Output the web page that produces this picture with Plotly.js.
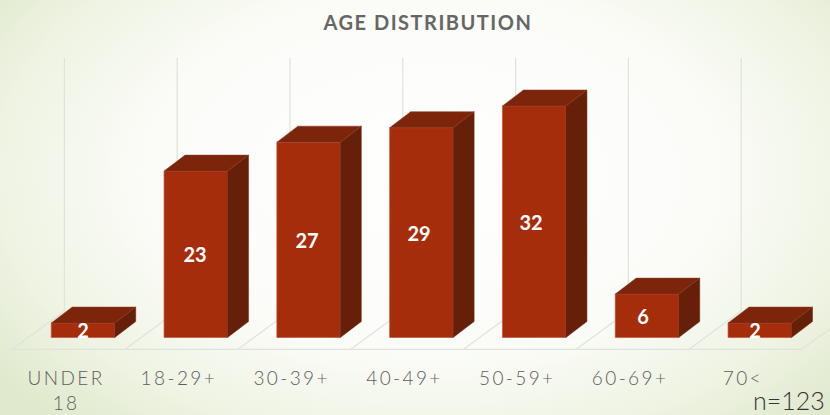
<!DOCTYPE html>
<html>
<head>
<meta charset="utf-8">
<script src="https://cdn.plot.ly/plotly-3.0.1.min.js"></script>
<style>
html,body{margin:0;padding:0;width:830px;height:415px;overflow:hidden;
background:radial-gradient(ellipse 62% 78% at 52% 42%,#ffffff 0%,#fbfcf8 55%,#eef3e2 85%,#e0e9cd 105%);}
#chart{width:830px;height:415px;}
.xtick text{letter-spacing:2.4px;}
.gtitle{letter-spacing:1.5px;}
</style>
</head>
<body>
<div id="chart"></div>
<script>
const categories = ["UNDER<br>18","18-29+","30-39+","40-49+","50-59+","60-69+","70<"];
const counts = [2,23,27,29,32,6,2];
const axisMax = 35;
const sampleNote = "n=123";
const titleText = "AGE DISTRIBUTION";

// projection of the oblique depth, in axis units
const barWidth = 0.563, barDepthX = 0.186, barDepthY = 2.21;
const floorDepthX = 0.47, floorDepthY = 5.39;
const floorFrontY = -1.73, floorBackY = floorFrontY + floorDepthY;
const tickShift = -0.15, gridShift = -0.165, labelDrift = -0.007, labelDrop = 0.42;

const idx = categories.map((_, i) => i);
const faceX = [], faceYTop = [], sideX = [], sideY = [];
counts.forEach((v, i) => {
  const l = i - barWidth/2, r = i + barWidth/2;
  faceX.push(l, r, r + barDepthX, l + barDepthX, l, null);
  faceYTop.push(v, v, v + barDepthY, v + barDepthY, v, null);
  sideX.push(r, r + barDepthX, r + barDepthX, r, r, null);
  sideY.push(0, barDepthY, v + barDepthY, v, 0, null);
});

const traces = [
  {type:"bar", x:idx, y:counts, width:barWidth,
   marker:{color:"#a52d0c",line:{color:"#c2583a",width:0.7}}, hoverinfo:"skip", showlegend:false},
  {type:"scatter", mode:"lines", x:sideX, y:sideY, fill:"toself", fillcolor:"#661f09",
   line:{width:0.5,color:"#6e2510"}, hoverinfo:"skip", showlegend:false},
  {type:"scatter", mode:"lines", x:faceX, y:faceYTop, fill:"toself", fillcolor:"#7c250b",
   line:{width:0.5,color:"#8a3a22"}, hoverinfo:"skip", showlegend:false},
  {type:"scatter", mode:"text", x:idx.map(i=>i*(1+labelDrift)), y:counts.map(v=>v/2-labelDrop),
   text:counts.map(String), textposition:"middle center", cliponaxis:false,
   textfont:{family:"Lato, sans-serif",size:20,color:"#ffffff",weight:700}, showlegend:false}
];

const gridColor = "#e0e2dc";
const shapes = [];
const line = (x0,y0,x1,y1,w) => ({type:"line",layer:"below",xref:"x",yref:"y",x0,y0,x1,y1,
  line:{color:gridColor,width:w}});
for (let i = 0; i <= categories.length; i++) {
  const back = i + gridShift, front = back - floorDepthX;
  if (i < categories.length) shapes.push(line(back,floorBackY,back,axisMax+floorBackY,1.2));
  shapes.push(line(front,floorFrontY,back,floorBackY,1.2));
}
shapes.push(line(gridShift-floorDepthX,floorFrontY+0.05,categories.length+gridShift-floorDepthX,floorFrontY+0.05,2));

const unitX = 112.8, unitY = 7.235;
const layout = {
  width:830, height:415,
  margin:{l:0,r:0,t:0,b:65,pad:0},
  paper_bgcolor:"rgba(0,0,0,0)", plot_bgcolor:"rgba(0,0,0,0)",
  showlegend:false, bargap:0,
  title:{text:titleText, x:428/830, xanchor:"center", y:1-23/415, yanchor:"middle",
         font:{family:"Lato, sans-serif",size:20,color:"#666666",weight:700}},
  xaxis:{range:[-83/unitX,(830-83)/unitX], tickmode:"array", tickvals:idx.map(i=>i+tickShift),
         ticktext:categories, showgrid:false, zeroline:false, showline:false, ticks:"", ticklen:0,
         ticklabelstandoff:15, tickangle:0, automargin:false,
         tickfont:{family:"Lato, sans-serif",size:19,color:"#5c5e5c",weight:300}},
  yaxis:{range:[-12.5/unitY,337.5/unitY], showgrid:false, zeroline:false, showline:false,
         showticklabels:false, ticks:""},
  shapes,
  annotations:[{text:sampleNote, xref:"paper", yref:"paper", x:827/830, xanchor:"right",
    y:-(400-350)/350, yanchor:"middle", showarrow:false, font:{family:"Lato, sans-serif",size:25,color:"#333333",weight:300}}]
};
Plotly.newPlot("chart", traces, layout, {displayModeBar:false, staticPlot:true});
</script>
</body>
</html>
